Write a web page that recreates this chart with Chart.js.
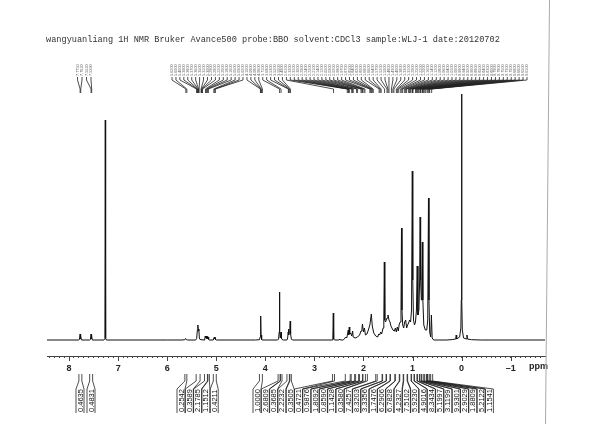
<!DOCTYPE html>
<html>
<head>
<meta charset="utf-8">
<script src="https://cdn.jsdelivr.net/npm/chart.js@4"></script>
<style>
  html, body { margin: 0; padding: 0; background: #fff; }
  #wrap { width: 600px; height: 424px; }
</style>
</head>
<body>
<div id="wrap"><canvas id="nmrChart" width="600" height="424"></canvas></div>
<script>
const titleText = "wangyuanliang 1H NMR Bruker Avance500 probe:BBO solvent:CDCl3 sample:WLJ-1 date:20120702";

// spectrum trace, [ppm, intensity]
const aromaticTrace = [
    [8.45, 0], [7.80, 0], [7.79, 0.5], [7.775, 6], [7.768, 1], [7.762, 5], [7.752, 0.3], [7.74, 0],
    [7.58, 0], [7.565, 0.5], [7.552, 6], [7.545, 1], [7.539, 5], [7.53, 0.3], [7.52, 0],
    [7.29, 0], [7.27, 1.5], [7.262, 220], [7.255, 1.5], [7.24, 0], [6.00, 0]
];
const olefinTrace = [
    [5.70, 0], [5.64, 0.3], [5.625, 1.5], [5.61, 0.3], [5.58, 0],
    [5.42, 0], [5.40, 1.5], [5.385, 10], [5.375, 15], [5.365, 9], [5.355, 11], [5.345, 2], [5.33, 0.5],
    [5.25, 0], [5.235, 1], [5.225, 4], [5.215, 2], [5.205, 4], [5.195, 1.5], [5.185, 3.5], [5.175, 1],
    [5.165, 3], [5.155, 0.5], [5.14, 0],
    [5.06, 0], [5.045, 2.5], [5.035, 1], [5.025, 2.5], [5.015, 0.5], [5.00, 0], [4.20, 0]
];
const midTrace = [
    [4.12, 0.3], [4.105, 3], [4.095, 24], [4.088, 5], [4.08, 2], [4.07, 0.3], [4.05, 0],
    [3.75, 0], [3.73, 1], [3.718, 8], [3.712, 48], [3.705, 8], [3.695, 2], [3.68, 8], [3.673, 2], [3.66, 0.5], [3.63, 0],
    [3.56, 0], [3.545, 2], [3.535, 8], [3.528, 11], [3.52, 5], [3.51, 8], [3.50, 12], [3.493, 19], [3.485, 6], [3.47, 1], [3.45, 0],
    [2.64, 0], [2.625, 1], [2.615, 27], [2.607, 1], [2.59, 0], [2.50, 0], [2.48, 1], [2.47, 0], [2.42, 0]
];
const aliphaticTrace = [
    [2.40, 0.5], [2.36, 3], [2.34, 2], [2.31, 10], [2.30, 5], [2.29, 13], [2.28, 6], [2.26, 7], [2.24, 4], [2.22, 9],
    [2.21, 3], [2.17, 2], [2.12, 3], [2.08, 5], [2.05, 9], [2.03, 12], [2.02, 16], [2.00, 8], [1.98, 12], [1.96, 5],
    [1.93, 6], [1.90, 10], [1.87, 15], [1.85, 22], [1.84, 26], [1.82, 14], [1.79, 7], [1.75, 4], [1.71, 3], [1.69, 6],
    [1.67, 5], [1.65, 8], [1.63, 6], [1.60, 12], [1.585, 20], [1.575, 78], [1.565, 20], [1.55, 18], [1.52, 22], [1.50, 25],
    [1.48, 20], [1.46, 18], [1.44, 14], [1.42, 12], [1.40, 10], [1.37, 9], [1.35, 12], [1.33, 8], [1.31, 13], [1.29, 9],
    [1.27, 16], [1.25, 18], [1.235, 30], [1.225, 112], [1.215, 30], [1.20, 15], [1.18, 12], [1.16, 18], [1.14, 20], [1.12, 12],
    [1.10, 15], [1.08, 17], [1.06, 20], [1.04, 18], [1.02, 30], [1.005, 169], [0.995, 60], [0.98, 20], [0.96, 15], [0.94, 18],
    [0.92, 30], [0.905, 74], [0.89, 25], [0.87, 30], [0.855, 60], [0.845, 123], [0.835, 60], [0.82, 40], [0.81, 60], [0.80, 98],
    [0.79, 40], [0.77, 15], [0.74, 10], [0.71, 10], [0.69, 20], [0.675, 142], [0.665, 40], [0.65, 8], [0.63, 3], [0.615, 25],
    [0.60, 2], [0.57, 0]
];
const tmsTrace = [
    [0.30, 0], [0.18, 0.5], [0.12, 1], [0.11, 5], [0.10, 1], [0.04, 3], [0.015, 12], [0.006, 40], [0.0, 246],
    [-0.006, 40], [-0.015, 10], [-0.04, 2], [-0.10, 1], [-0.11, 5], [-0.12, 1], [-0.2, 0.3], [-0.4, 0], [-1.70, 0]
];

// peak picking labels at the top
const leftPeaks = [7.7750, 7.7620, 7.5520, 7.5390];
const mainPeaks = [
    5.62, 5.60, 5.40, 5.39, 5.38, 5.37, 5.36, 5.35, 5.31, 5.30, 5.29, 5.28, 5.22, 5.20, 5.18, 5.16, 5.05, 5.03, 5.02,
    4.10, 4.09, 4.08, 4.06, 3.71, 3.68, 3.53, 3.52, 3.50, 3.49, 2.61, 2.33, 2.31, 2.30, 2.29, 2.24, 2.22, 2.21,
    2.14, 2.12, 2.05, 2.03, 2.02, 1.99, 1.97, 1.87, 1.85, 1.84, 1.82, 1.80, 1.68, 1.66, 1.64, 1.57, 1.52, 1.50,
    1.48, 1.43, 1.40, 1.38, 1.33, 1.31, 1.29, 1.25, 1.22, 1.20, 1.16, 1.14, 1.12, 1.08, 1.06, 1.04, 1.01, 1.00,
    0.99, 0.94, 0.92, 0.90, 0.88, 0.85, 0.84, 0.83, 0.80, 0.79, 0.78, 0.75, 0.73, 0.70, 0.68, 0.66, 0.65, 0.61
];

// integrals: values and regions (ppm)
const integralValues = [
    "0.4635", "0.4831",
    "0.2542", "0.3589", "2.1785", "1.1512", "0.4211",
    "1.0000", "2.6809", "0.3685", "2.2232", "0.3505", "0.4721", "0.9876", "1.8092", "0.8590", "1.1428",
    "0.3580", "7.4257", "8.3203", "3.3356", "1.7476", "6.2906", "6.7828", "4.2327", "7.5102", "5.9230",
    "4.9016", "8.3434", "5.1997", "3.1199", "9.9301", "2.9029", "1.8809", "5.2122", "1.1541"
];
const integralFrom = [
    7.80, 7.58,
    5.64, 5.41, 5.24, 5.17, 5.06,
    4.12, 3.74, 3.69, 3.56, 3.50, 2.63, 2.37, 2.25, 2.16, 2.08,
    2.01, 1.92, 1.72, 1.61, 1.53, 1.45, 1.35, 1.26, 1.18, 1.10,
    1.02, 0.96, 0.90, 0.85, 0.81, 0.76, 0.71, 0.69, 0.63
];
const integralTo = [
    7.74, 7.52,
    5.60, 5.33, 5.18, 5.14, 5.00,
    4.06, 3.70, 3.66, 3.51, 3.47, 2.59, 2.27, 2.18, 2.10, 2.02,
    1.96, 1.75, 1.62, 1.54, 1.46, 1.36, 1.27, 1.19, 1.11, 1.03,
    0.97, 0.91, 0.86, 0.82, 0.77, 0.72, 0.69, 0.65, 0.59
];
const integralGroups = [[0, 2], [2, 7], [7, 36]];

const spectrum = [...aromaticTrace, ...olefinTrace, ...midTrace, ...aliphaticTrace, ...tmsTrace]
    .map(p => ({ x: p[0], y: p[1] }));

const isInt = v => Math.abs(v - Math.round(v)) < 1e-6;

const nmrDecor = {
    id: 'nmrDecor',
    afterDraw(chart) {
        const { ctx, chartArea: area, scales: { x } } = chart;
        ctx.save();

        // title
        ctx.fillStyle = '#333';
        ctx.font = '8.6px "Liberation Mono"';
        ctx.textAlign = 'left';
        ctx.textBaseline = 'middle';
        ctx.fillText(titleText, 46, 40);

        // longer ticks on the whole ppm values
        ctx.strokeStyle = '#444';
        ctx.lineWidth = 1;
        ctx.beginPath();
        for (let v = -1; v <= 8; v++) {
            const px = Math.round(x.getPixelForValue(v)) + 0.5;
            ctx.moveTo(px, area.bottom);
            ctx.lineTo(px, area.bottom + 5);
        }
        ctx.stroke();

        // axis unit
        ctx.fillStyle = '#222';
        ctx.font = 'bold 9px "Liberation Sans"';
        ctx.textAlign = 'right';
        ctx.fillText('ppm', area.right + 3, 367);

        // peak labels with their leader lines
        const drawPeaks = (peaks, start, step) => {
            ctx.strokeStyle = '#222';
            ctx.lineWidth = 0.8;
            ctx.beginPath();
            peaks.forEach((p, i) => {
                const xl = start + i * step;
                const xp = x.getPixelForValue(p);
                ctx.moveTo(xl, 77);
                ctx.lineTo(xl, 80);
                ctx.lineTo(xp, 89);
                ctx.lineTo(xp, 93);
            });
            ctx.stroke();
            ctx.fillStyle = '#666';
            ctx.font = '3.8px "Liberation Sans"';
            ctx.textAlign = 'left';
            ctx.textBaseline = 'middle';
            peaks.forEach((p, i) => {
                ctx.save();
                ctx.translate(start + i * step, 76);
                ctx.rotate(-Math.PI / 2);
                ctx.fillText(p.toFixed(4), 0, 0);
                ctx.restore();
            });
        };
        drawPeaks(leftPeaks, 77.5, 4.5);
        drawPeaks(mainPeaks, 172, (527 - 172) / (mainPeaks.length - 1));

        // integral brackets and values
        const groupStart = [80, 181, 257];
        const groupStep = [11, 8.3, 8.3];
        ctx.strokeStyle = '#222';
        ctx.lineWidth = 0.8;
        ctx.fillStyle = '#111';
        ctx.font = '7.5px "Liberation Sans"';
        integralGroups.forEach(([s, e], g) => {
            for (let i = s; i < e; i++) {
                const xc = groupStart[g] + (i - s) * groupStep[g];
                const x1 = x.getPixelForValue(integralFrom[i]);
                const x2 = x.getPixelForValue(integralTo[i]);
                ctx.beginPath();
                ctx.moveTo(x1, 374); ctx.lineTo(x1, 381); ctx.lineTo(xc - 4, 389); ctx.lineTo(xc - 4, 413);
                ctx.moveTo(x2, 374); ctx.lineTo(x2, 381); ctx.lineTo(xc + 4, 389); ctx.lineTo(xc + 4, 413);
                ctx.stroke();
                ctx.save();
                ctx.translate(xc + 0.5, 412);
                ctx.rotate(-Math.PI / 2);
                ctx.textAlign = 'left';
                ctx.textBaseline = 'middle';
                ctx.fillText(integralValues[i], 0, 0);
                ctx.restore();
            }
        });

        // faint page frame line on the right
        ctx.strokeStyle = '#aaa';
        ctx.lineWidth = 1;
        ctx.beginPath();
        ctx.moveTo(549.5, 0);
        ctx.lineTo(545.5, 424);
        ctx.stroke();

        ctx.restore();
    }
};

new Chart(document.getElementById('nmrChart').getContext('2d'), {
    type: 'line',
    data: {
        datasets: [{
            label: '1H',
            data: spectrum,
            borderColor: '#111',
            borderWidth: 1,
            pointRadius: 0,
            tension: 0,
            fill: false
        }]
    },
    options: {
        responsive: false,
        animation: false,
        parsing: true,
        layout: { padding: { left: 47, right: 55, top: 90, bottom: 0 } },
        plugins: {
            legend: { display: false },
            tooltip: { enabled: false },
            title: { display: false }
        },
        scales: {
            x: {
                type: 'linear',
                reverse: true,
                min: -1.7,
                max: 8.45,
                border: { display: true, color: '#444', width: 1 },
                grid: { display: true, drawOnChartArea: false, drawTicks: true, tickLength: 2, color: '#444' },
                ticks: {
                    stepSize: 0.1,
                    autoSkip: false,
                    maxRotation: 0,
                    includeBounds: false,
                    padding: 5,
                    color: '#222',
                    font: { family: 'Liberation Sans', size: 9, weight: 'bold' },
                    callback: v => isInt(v) ? (Math.round(v) < 0 ? '\u2013' + Math.abs(Math.round(v)) : String(Math.round(v))) : ''
                },
                afterFit: s => { s.height = 68; }
            },
            y: {
                display: false,
                min: -16,
                max: 250
            }
        }
    },
    plugins: [nmrDecor]
});
</script>
</body>
</html>
